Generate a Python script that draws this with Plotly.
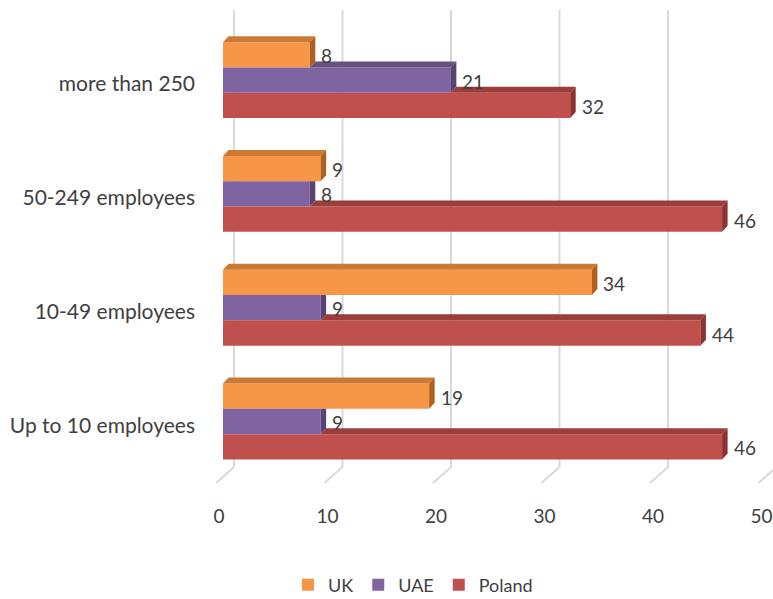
import plotly.graph_objects as go

# Data -----------------------------------------------------------------
categories = ["Up to 10 employees", "10-49 employees", "50-249 employees", "more than 250"]
series_names = ["UK", "UAE", "Poland"]
uk = [19, 34, 9, 8]
uae = [9, 9, 8, 21]
poland = [46, 44, 46, 32]
x_ticks = [0, 10, 20, 30, 40, 50]

# Styling --------------------------------------------------------------
FRONT = {"UK": "#F79646", "UAE": "#8064A2", "Poland": "#C0504D"}
TOP = {"UK": "#CB7A35", "UAE": "#66517F", "Poland": "#9B3D3B"}
SIDE = {"UK": "#AE611F", "UAE": "#584473", "Poland": "#8A3331"}
TEXT = "#404040"
GRID = "#D9D9D9"
FONT = "Lato"

W, H = 773, 599
PLOT_L, PLOT_R, PLOT_T, PLOT_B = 210, 773, 10, 490
X0_PX, KX = 223.0, 10.85      # pixel of value 0 and pixels per unit on the front plane
Y0_PX, KY = 421.5, 113.8      # pixel of first category centre and pixels per category

x_range = [(PLOT_L - X0_PX) / KX, (PLOT_R - X0_PX) / KX]
y_range = [(Y0_PX - PLOT_B) / KY, (Y0_PX - PLOT_T) / KY]

BAR_W = 25.3 / KY             # bar thickness in category units
DX, DY = 5.5 / KX, 6.0 / KY   # depth of the 3-D extrusion
WALL_DX = 11.0 / KX           # back-wall offset of the gridlines
WALL_BOTTOM = (Y0_PX - 467) / KY
FLOOR_FRONT_Y = (Y0_PX - 483) / KY
FLOOR_FRONT_DX = -7.0 / KX


def poly(points):
    return "M " + " L ".join(f"{x:.4f},{y:.4f}" for x, y in points) + " Z"


fig = go.Figure()

series = [("UK", uk), ("UAE", uae), ("Poland", poland)]
offsets = {"UK": BAR_W, "UAE": 0.0, "Poland": -BAR_W}

# Front faces as bars
for name, vals in series:
    fig.add_trace(go.Bar(
        name=name,
        orientation="h",
        x=vals,
        y=[i + offsets[name] for i in range(len(categories))],
        width=BAR_W,
        marker=dict(color=FRONT[name], line=dict(width=0)),
        hoverinfo="x+name",
    ))

shapes = []
annotations = []

# Back-wall gridlines and floor ticks
for v in x_ticks:
    xb = v + WALL_DX
    shapes.append(dict(type="line", xref="x", yref="y", x0=xb, x1=xb,
                       y0=WALL_BOTTOM, y1=y_range[1], layer="below",
                       line=dict(color=GRID, width=2)))
    shapes.append(dict(type="line", xref="x", yref="y", x0=xb, x1=v + FLOOR_FRONT_DX,
                       y0=WALL_BOTTOM, y1=FLOOR_FRONT_Y, layer="below",
                       line=dict(color=GRID, width=2)))

# Top and side faces, plus value labels
for i in range(len(categories)):
    upper = None
    for name, vals in series:
        v = vals[i]
        c = i + offsets[name]
        yt, yb = c + BAR_W / 2, c - BAR_W / 2
        if upper is None or v > upper:
            start = 0 if upper is None else upper
            shapes.append(dict(type="path", xref="x", yref="y", layer="above",
                               path=poly([(start, yt), (start + DX, yt + DY),
                                          (v + DX, yt + DY), (v, yt)]),
                               fillcolor=TOP[name], line=dict(width=0)))
            side = [(v, yt), (v + DX, yt + DY), (v + DX, yb + DY), (v, yb)]
        else:
            side = [(v, yt), (v + DX, yt), (v + DX, yb + DY), (v, yb)]
        shapes.append(dict(type="path", xref="x", yref="y", layer="above",
                           path=poly(side), fillcolor=SIDE[name], line=dict(width=0)))
        annotations.append(dict(x=v + DX, y=c, xref="x", yref="y", text=str(v),
                                showarrow=False, xanchor="left", yanchor="middle",
                                xshift=4, yshift=-1,
                                font=dict(family=FONT, size=19, color=TEXT)))
        upper = v

fig.update_layout(
    width=W, height=H,
    margin=dict(l=PLOT_L, r=W - PLOT_R, t=PLOT_T, b=H - PLOT_B, autoexpand=False),
    paper_bgcolor="white", plot_bgcolor="white",
    barmode="overlay",
    showlegend=True,
    legend=dict(orientation="h", x=(413 - PLOT_L) / (PLOT_R - PLOT_L), xanchor="center",
                y=(PLOT_B - 585) / (PLOT_B - PLOT_T), yanchor="middle",
                font=dict(family=FONT, size=18, color=TEXT),
                itemwidth=30, tracegroupgap=0),
    xaxis=dict(range=x_range, showgrid=False, zeroline=False, showline=False,
               tickvals=x_ticks, ticktext=[str(t) for t in x_ticks],
               ticks="", ticklabelshift=-4, ticklabelstandoff=13,
               tickfont=dict(family=FONT, size=19, color=TEXT)),
    yaxis=dict(range=y_range, showgrid=False, zeroline=False, showline=False,
               tickvals=list(range(len(categories))), ticktext=categories,
               ticks="", ticklabelshift=4, ticklabelstandoff=14,
               tickfont=dict(family=FONT, size=21, color=TEXT)),
    shapes=shapes,
    annotations=annotations,
    hovermode="closest",
)

fig.write_html("out.html")
